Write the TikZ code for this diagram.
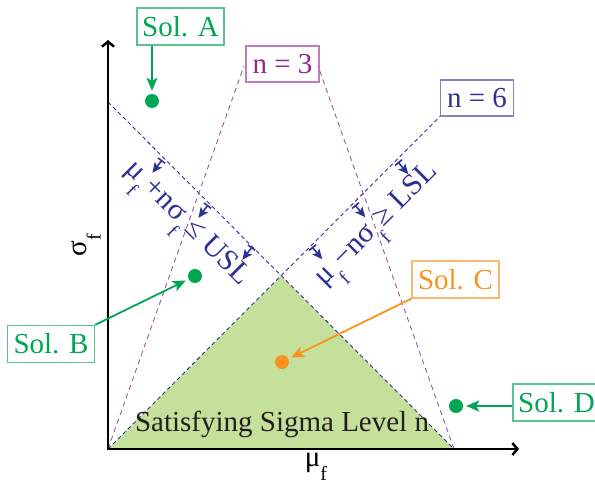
\documentclass[tikz,border=0pt]{standalone}
\usepackage{fontspec}
\setmainfont{Liberation Serif}
\usetikzlibrary{arrows.meta,calc}
\definecolor{cblue}{RGB}{46,49,146}
\definecolor{cpurple}{RGB}{146,39,143}
\definecolor{cgreen}{RGB}{0,166,81}
\definecolor{corange}{RGB}{247,148,29}
\definecolor{cfill}{RGB}{197,224,155}
\definecolor{ctext}{RGB}{35,31,32}
\newcommand{\subf}{\raisebox{-0.5em}{\fontsize{20}{20}\selectfont f}}
\begin{document}
\begin{tikzpicture}[x=1pt,y=-1pt,
  bigfont/.style={font=\fontsize{29}{32}\selectfont},
  lbl/.style={bigfont, inner sep=0pt},
  solbox/.style={draw=#1!65, line width=1.2pt, text=#1, bigfont, minimum width=87pt, minimum height=37pt, inner sep=0pt},
  nbox/.style={draw=#1!60, line width=1.2pt, text=#1, bigfont, minimum width=73pt, minimum height=36pt, inner sep=0pt},
  soldot/.style={circle, fill=#1, minimum size=14pt, inner sep=0pt},
  solarrow/.style={draw=#1, line width=1.8pt, -{Stealth[length=13pt,width=11pt,inset=3pt]}, shorten >=3pt},
  bluedash/.style={cblue, line width=0.9pt, dash pattern=on 4pt off 3pt},
  purpdash/.style={cpurple!80, line width=0.9pt, dash pattern=on 5pt off 4pt},
  cons/.style={cblue, line width=1.6pt, {Bar[width=9pt]}-{Stealth[length=10pt,width=9pt,inset=2pt]}},
  axis/.style={line width=2.5pt, line join=miter, {Straight Barb[length=5pt,width=12pt]}-{Straight Barb[length=5pt,width=12pt]}}
]
\useasboundingbox (0,0) rectangle (595,487);
% key points
\coordinate (O) at (108,449);
\coordinate (R) at (454,449);
\coordinate (T) at (281,276);
\coordinate (YL) at (108,102);
\coordinate (YT) at (108,40);
\coordinate (XT) at (519,449);
\coordinate (P3L) at (244,66);
\coordinate (P3R) at (318,66);
% feasible region
\fill[cfill] (O) -- (T) -- (R) -- cycle;
% boxes n
\node[nbox=cpurple] (n3) at (282.5,64) {n = 3};
\node[nbox=cblue] (n6) at (477,98) {n = 6};
% constraint lines
\draw[bluedash] (YL) -- (R);
\draw[bluedash] (O) -- (n6.south west);
\draw[purpdash] (O) -- (P3L);
\draw[purpdash] (R) -- (P3R);
% axes
\draw[axis] (YT) -- (O) -- (XT);
\node[lbl, rotate=90] (sy) at (86,245) {σ\subf};
\node[lbl] (mx) at (316,467) {μ\subf};
% region text
\node[lbl, text=ctext] (sat) at (282,424) {Satisfying Sigma Level n};
% constraint labels
\node[lbl, text=cblue, rotate=-45, font=\fontsize{30}{32}\selectfont] (usl) at (184,227) {μ\subf\hspace{3pt}+nσ\subf\hspace{3pt}≤ USL};
\node[lbl, text=cblue, rotate=45, font=\fontsize{30}{32}\selectfont] (lsl) at (380,228) {μ\subf\hspace{3pt}−nσ\subf\hspace{3pt}≥ LSL};
% constraint arrows
\draw[cons] (162,160) -- ++(-9.6,12.8);
\draw[cons] (208,205) -- ++(-9.6,12.8);
\draw[cons] (252,247) -- ++(-9.6,12.8);
\draw[cons] (312,247) -- ++(10.3,12.2);
\draw[cons] (355,205) -- ++(10.3,12.2);
\draw[cons] (398,162) -- ++(10.3,12.2);
% solutions
\node[solbox=cgreen] (sa) at (180.5,26.5) {Sol. A};
\node[soldot=cgreen] (da) at (152,101) {};
\draw[solarrow=cgreen] (sa.south -| da) -- (da);
\node[solbox=cgreen] (sb) at (51,344) {Sol. B};
\node[soldot=cgreen] (db) at (195,276) {};
\draw[solarrow=cgreen] (sb.north east) -- (db);
\node[solbox=corange] (sc) at (455.5,279.5) {Sol. C};
\node[soldot=corange] (dc) at (282,362) {};
\draw[solarrow=corange] (sc.south west) -- (dc);
\node[solbox=cgreen] (sd) at (556.5,402.5) {Sol. D};
\node[soldot=cgreen] (dd) at (456,406) {};
\draw[solarrow=cgreen] (sd.west |- dd) -- (dd);
\end{tikzpicture}
\end{document}
